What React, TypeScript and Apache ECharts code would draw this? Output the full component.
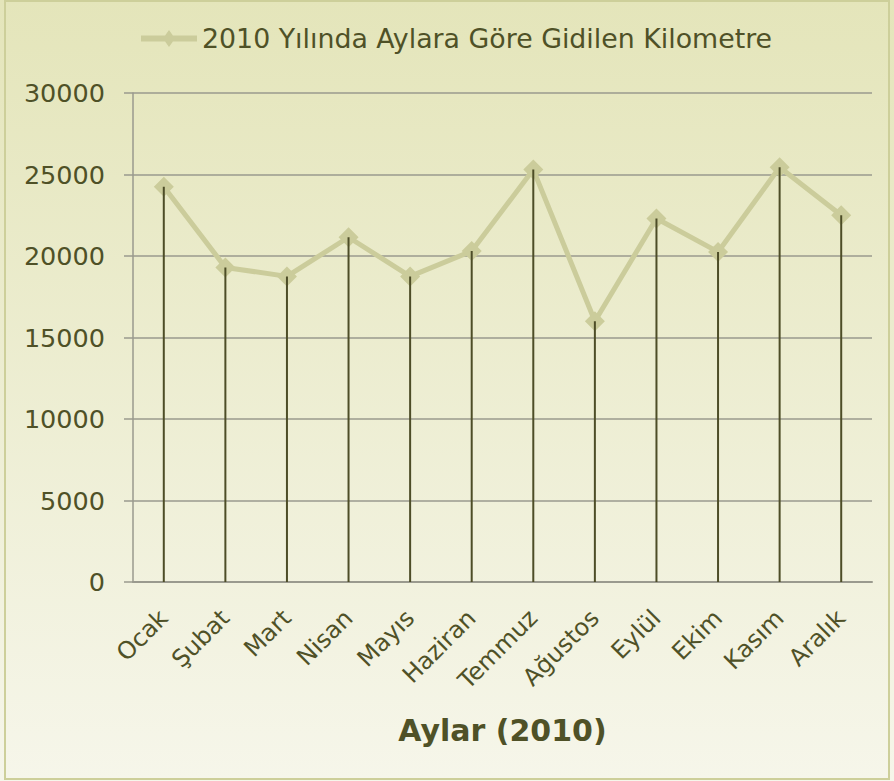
import React, { useEffect, useRef } from "react";
import * as echarts from "echarts";

const categories = ["Ocak", "Şubat", "Mart", "Nisan", "Mayıs", "Haziran", "Temmuz", "Ağustos", "Eylül", "Ekim", "Kasım", "Aralık"];
const kilometres = [24250, 19300, 18750, 21150, 18750, 20300, 25300, 16000, 22300, 20250, 25450, 22500];
const seriesName = "2010 Yılında Aylara Göre Gidilen Kilometre";
const xAxisTitle = "Aylar (2010)";
const yMin = 0;
const yMax = 30000;
const yStep = 5000;

const textColor = "#4f5127";
const font = "'DejaVu Sans', Verdana, sans-serif";

export default function App() {
  const ref = useRef<HTMLDivElement>(null);
  useEffect(() => {
    if (!ref.current) return;
    const chart = echarts.init(ref.current, undefined, { renderer: "svg" });
    chart.setOption({
      animation: false,
      backgroundColor: new echarts.graphic.LinearGradient(0, 0, 0, 1, [
        { offset: 0, color: "#e4e5ba" },
        { offset: 1, color: "#f6f6ea" },
      ]),
      graphic: [
        {
          type: "rect",
          shape: { x: 5, y: 1, width: 884, height: 778 },
          style: { fill: "none", stroke: "#cdcf9a", lineWidth: 2 },
          silent: true,
        },
      ],
      legend: {
        data: [seriesName],
        left: 136,
        top: 20,
        itemWidth: 56,
        itemHeight: 17,
        icon: "path://M0,5.5 L24.1,5.5 L28,0 L31.9,5.5 L56,5.5 L56,11.5 L31.9,11.5 L28,17 L24.1,11.5 L0,11.5 Z",
        textStyle: {
          color: textColor,
          fontSize: 26.8,
          fontFamily: font,
        },
      },
      grid: { left: 133, right: 22, top: 93, bottom: 199, containLabel: false },
      xAxis: {
        type: "category",
        data: categories,
        boundaryGap: true,
        axisLine: { show: true, lineStyle: { color: "#9a9a8e", width: 2 } },
        axisTick: { show: false },
        axisLabel: {
          rotate: 45,
          margin: 32,
          color: textColor,
          fontSize: 24,
          fontFamily: font,
          interval: 0,
        },
        name: xAxisTitle,
        nameLocation: "middle",
        nameGap: 133,
        nameTextStyle: {
          color: textColor,
          fontSize: 30,
          fontWeight: "bold",
          fontFamily: font,
        },
      },
      yAxis: {
        type: "value",
        min: yMin,
        max: yMax,
        interval: yStep,
        axisLine: { show: true, lineStyle: { color: "#9a9a8e", width: 1.5 } },
        axisTick: { show: true, length: 9, lineStyle: { color: "#9a9a8e", width: 1.5 } },
        splitLine: { show: true, lineStyle: { color: "#9a9a8e", width: 1.5 } },
        axisLabel: {
          margin: 28,
          color: textColor,
          fontSize: 25.5,
          fontFamily: font,
          formatter: (v: number) => String(v),
        },
      },
      series: [
        {
          name: seriesName,
          type: "line",
          data: kilometres,
          symbol: "diamond",
          symbolSize: 20,
          lineStyle: { color: "#cbcc9b", width: 5 },
          itemStyle: { color: "#cbcc9b" },
          z: 2,
        },
        {
          name: "drop",
          type: "bar",
          data: kilometres,
          barWidth: 2,
          itemStyle: { color: "#4d4d27" },
          z: 3,
          silent: true,
        },
      ],
    });
    return () => chart.dispose();
  }, []);
  return (
    <div
      ref={ref}
      style={{ position: "fixed", left: 0, top: 0, width: 894, height: 781 }}
    />
  );
}
